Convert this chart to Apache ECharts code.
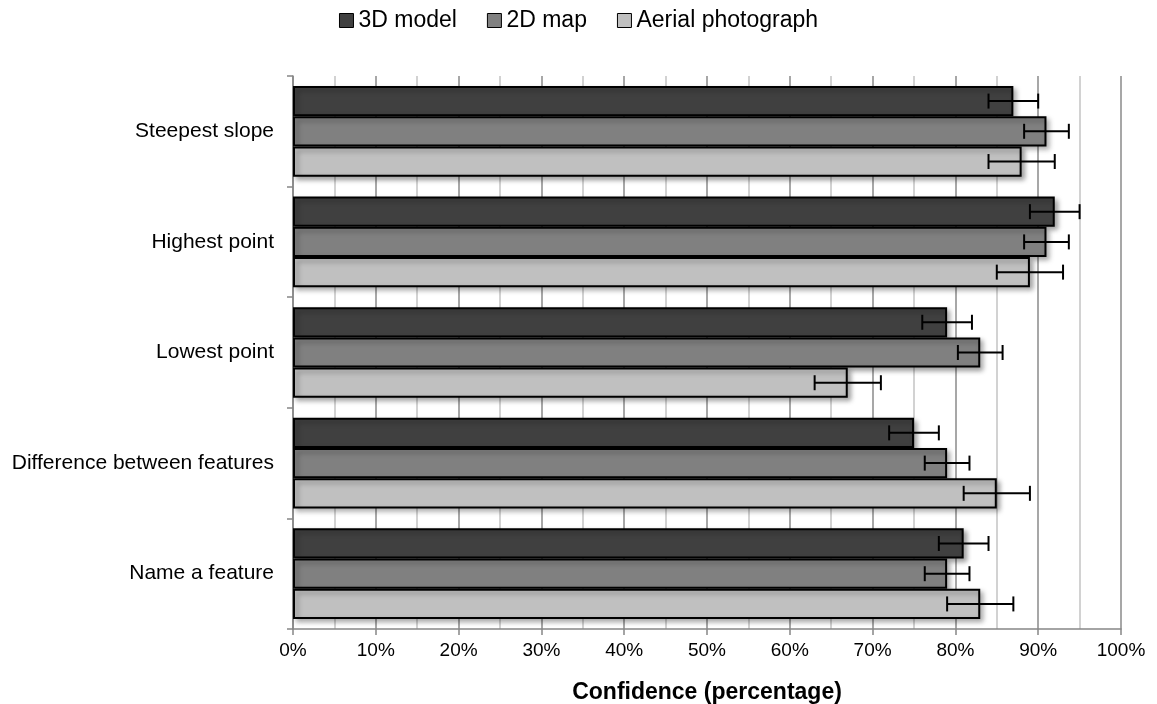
<!DOCTYPE html>
<html>
<head>
<meta charset="utf-8">
<title>Confidence by task and representation</title>
<script src="https://cdn.jsdelivr.net/npm/echarts@6/dist/echarts.min.js"></script>
<style>
  html, body { margin: 0; padding: 0; background: #fff; }
  #chart { width: 1157px; height: 704px; }
</style>
</head>
<body>
<div id="chart"></div>
<script>
// Tasks, top to bottom
const categories = ['Steepest slope', 'Highest point', 'Lowest point', 'Difference between features', 'Name a feature'];
const seriesNames = ['3D model', '2D map', 'Aerial photograph'];

// Mean confidence (%) per task
const model3D = [87, 92, 79, 75, 81];
const map2D = [91, 91, 83, 79, 79];
const aerialPhoto = [88, 89, 67, 85, 83];

// Error bar half-widths (%)
const err3D = [3, 3, 3, 3, 3];
const err2D = [2.7, 2.7, 2.7, 2.7, 2.7];
const errAerial = [4, 4, 4, 4, 4];

const xTicks = [0, 10, 20, 30, 40, 50, 60, 70, 80, 90, 100];

const values = [model3D, map2D, aerialPhoto];
const errors = [err3D, err2D, errAerial];
const colors = ['#404040', '#808080', '#c0c0c0'];
const CATEGORY_GAP = 0.18;
const FONT = 'Liberation Sans, Arial, sans-serif';

const chart = echarts.init(document.getElementById('chart'), null, { renderer: 'canvas' });

const barSeries = seriesNames.map((name, s) => ({
  name: name,
  type: 'bar',
  data: values[s],
  barGap: '0%',
  barCategoryGap: (CATEGORY_GAP * 100) + '%',
  itemStyle: {
    color: colors[s],
    borderColor: '#000',
    borderWidth: 2,
    shadowColor: 'rgba(0,0,0,0.35)',
    shadowBlur: 5,
    shadowOffsetX: 3,
    shadowOffsetY: 3
  },
  z: 2
}));

// Error bars drawn through the axes: one custom series per bar series
const errorSeries = seriesNames.map((name, s) => ({
  type: 'custom',
  name: name + ' error',
  data: categories.map((c, i) => [values[s][i], i, values[s][i] - errors[s][i], values[s][i] + errors[s][i]]),
  encode: { x: [2, 3], y: 1 },
  z: 5,
  silent: true,
  renderItem: function (params, api) {
    const cat = api.value(1);
    const lo = api.coord([api.value(2), cat]);
    const hi = api.coord([api.value(3), cat]);
    const band = api.size([0, 1])[1];
    const bw = band * (1 - CATEGORY_GAP) / seriesNames.length;
    const y = lo[1] + (s - (seriesNames.length - 1) / 2) * bw;
    const cap = 7.5;
    const style = { stroke: '#000', lineWidth: 2 };
    return {
      type: 'group',
      children: [
        { type: 'line', shape: { x1: lo[0], y1: y, x2: hi[0], y2: y }, style: style },
        { type: 'line', shape: { x1: lo[0], y1: y - cap, x2: lo[0], y2: y + cap }, style: style },
        { type: 'line', shape: { x1: hi[0], y1: y - cap, x2: hi[0], y2: y + cap }, style: style }
      ]
    };
  }
}));

const option = {
  animation: false,
  backgroundColor: '#fff',
  textStyle: { fontFamily: FONT },
  legend: {
    data: seriesNames,
    top: 4,
    left: 'center',
    itemWidth: 14,
    itemHeight: 14,
    itemGap: 30,
    icon: 'rect',
    textStyle: { fontSize: 23, color: '#000', fontFamily: FONT },
    itemStyle: { borderColor: '#000', borderWidth: 1, shadowBlur: 0, shadowOffsetX: 0, shadowOffsetY: 0 }
  },
  grid: { left: 293, right: 36, top: 76, bottom: 75, containLabel: false, outerBoundsMode: 'none' },
  xAxis: {
    type: 'value',
    min: xTicks[0],
    max: xTicks[xTicks.length - 1],
    interval: xTicks[1] - xTicks[0],
    name: 'Confidence (percentage)',
    nameLocation: 'middle',
    nameGap: 52,
    nameTextStyle: { fontSize: 23, fontWeight: 'bold', color: '#000', fontFamily: FONT },
    axisLine: { show: true, lineStyle: { color: '#868686', width: 1.5 } },
    axisTick: { show: true, length: 6, lineStyle: { color: '#868686', width: 1.5 } },
    axisLabel: { formatter: '{value}%', fontSize: 19, color: '#000', margin: 12 },
    splitLine: { show: true, lineStyle: { color: '#8a8a8a', width: 1.5 } },
    minorTick: { show: false, splitNumber: 2 },
    minorSplitLine: { show: true, lineStyle: { color: '#c4c4c4', width: 1.5 } }
  },
  yAxis: {
    type: 'category',
    data: categories,
    inverse: true,
    axisLine: { show: true, lineStyle: { color: '#868686', width: 1.5 } },
    axisTick: { show: true, length: 6, lineStyle: { color: '#868686', width: 1.5 } },
    axisLabel: { fontSize: 21, color: '#000', margin: 19 },
    splitLine: { show: false }
  },
  series: barSeries.concat(errorSeries)
};

chart.setOption(option);
</script>
</body>
</html>
